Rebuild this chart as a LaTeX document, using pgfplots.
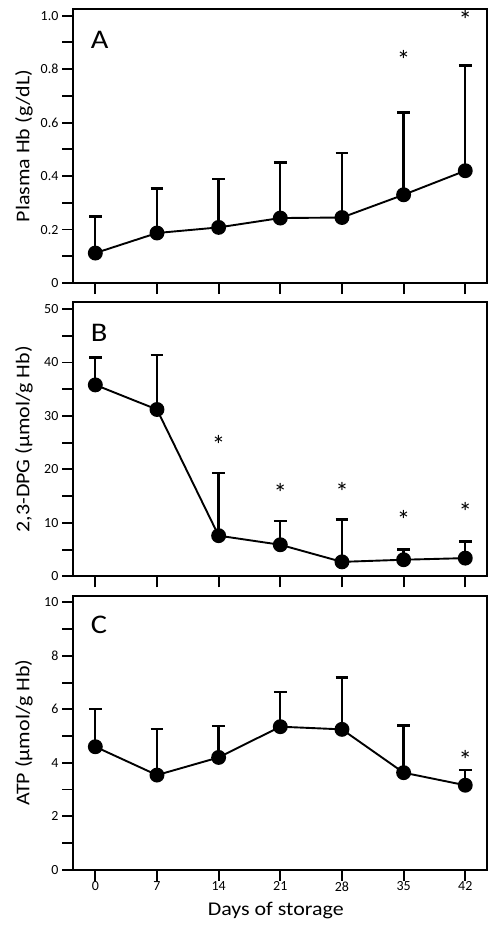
\documentclass[border=0pt]{standalone}
\usepackage{pgfplots}
\pgfplotsset{compat=1.18}
\usepackage{fontspec}
\setmainfont{Carlito}
\newfontfamily\widefont[FakeStretch=1.13]{Carlito}
\newcommand{\labfont}{\widefont\fontsize{19.5}{19.5}\selectfont}
\newcommand{\panfont}{\widefont\fontsize{27}{27}\selectfont}
\begin{document}
\begin{tikzpicture}
\pgfplotsset{
  panel/.style={
    scale only axis, width=414bp, height=274bp,
    xmin=-2.5, xmax=44.5, ymin=0,
    xtick={0,7,14,21,28,35,42},
    tick align=outside, xtick pos=bottom, ytick pos=left,
    major tick length=11bp, minor tick length=11bp,
    line width=1.9bp,
    every tick/.style={black, line width=1.9bp},
    every minor tick/.style={black, line width=1.9bp},
    tick label style={font=\fontsize{14}{14}\selectfont, /pgf/number format/assume math mode=true},
    yticklabel style={anchor=east, inner sep=0pt, xshift=-3bp},
    xticklabel style={anchor=north, inner sep=0pt},
    every axis y label/.style={at={(axis description cs:-0.119,0.5)}, rotate=90, anchor=center},
    every axis x label/.style={at={(axis description cs:0.489,-0.15)}, anchor=center},
    clip=false,
  },
  dataplot/.style={black, line width=1.9bp, mark=*, mark size=6.5bp, mark options={solid, fill=black},
    error bars/.cd, y dir=plus, y explicit,
    error bar style={line width=2.3bp, black},
    error mark options={rotate=90, line width=2.3bp, mark size=6.3bp, black}},
  stars/.style={draw=none, nodes near coords={*},
    every node near coord/.style={anchor=center, inner sep=0pt, yshift=-4bp, font=\fontsize{27}{27}\selectfont}},
}
\path[use as bounding box] (-73.3bp,9bp) rectangle (421.7bp,-921bp);
% Panel A
\begin{axis}[panel, at={(0bp,0bp)}, anchor=north west,
  ymax=1.025, ytick={0,0.2,0.4,0.6,0.8,1.0}, yticklabels={0,0.2,0.4,0.6,0.8,1.0},
  minor ytick={0.1,0.3,0.5,0.7,0.9}, xticklabels={},
  ylabel={\labfont Plasma Hb (g/dL)}]
\addplot[dataplot] coordinates {
 (0,0.112) +- (0,0.137)
 (7,0.187) +- (0,0.166)
 (14,0.208) +- (0,0.182)
 (21,0.243) +- (0,0.208)
 (28,0.245) +- (0,0.241)
 (35,0.330) +- (0,0.308)
 (42,0.420) +- (0,0.394)
};
\addplot[stars] coordinates {(35,0.851) (42,1.0)};
\node[anchor=west, inner sep=0pt] at (rel axis cs:0.04,0.887) {\panfont A};
\end{axis}
% Panel B
\begin{axis}[panel, at={(0bp,-293.3bp)}, anchor=north west,
  ymax=51.25, ytick={0,10,20,30,40,50},
  minor ytick={5,15,25,35,45}, xticklabels={},
  ylabel={\labfont 2,3-DPG (µmol/g Hb)}]
\addplot[dataplot] coordinates {
 (0,35.8) +- (0,5.1)
 (7,31.2) +- (0,10.2)
 (14,7.6) +- (0,11.7)
 (21,5.9) +- (0,4.4)
 (28,2.7) +- (0,7.9)
 (35,3.1) +- (0,1.9)
 (42,3.4) +- (0,3.1)
};
\addplot[stars] coordinates {(14,25.4) (21,16.4) (28,16.6) (35,11.2) (42,12.7)};
\node[anchor=west, inner sep=0pt] at (rel axis cs:0.04,0.89) {\panfont B};
\end{axis}
% Panel C
\begin{axis}[panel, at={(0bp,-586.7bp)}, anchor=north west,
  ymax=10.25, ytick={0,2,4,6,8,10},
  minor ytick={1,3,5,7,9},
  xlabel={\labfont Days of storage},
  ylabel={\labfont ATP (µmol/g Hb)}]
\addplot[dataplot] coordinates {
 (0,4.6) +- (0,1.4)
 (7,3.54) +- (0,1.72)
 (14,4.2) +- (0,1.17)
 (21,5.35) +- (0,1.3)
 (28,5.25) +- (0,1.94)
 (35,3.63) +- (0,1.77)
 (42,3.16) +- (0,0.57)
};
\addplot[stars] coordinates {(42,4.25)};
\node[anchor=west, inner sep=0pt] at (rel axis cs:0.04,0.895) {\panfont C};
\end{axis}
\end{tikzpicture}
\end{document}
